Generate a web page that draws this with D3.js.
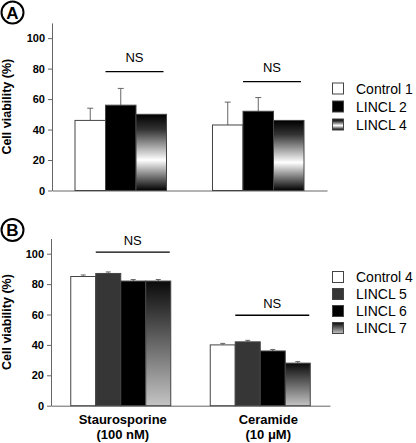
<!DOCTYPE html>
<html><head><meta charset="utf-8">
<script src="https://cdn.jsdelivr.net/npm/d3@7"></script>
<style>
html,body{margin:0;padding:0;background:#fff;}
text{font-family:"Liberation Sans",Arial,sans-serif;}
</style></head>
<body>
<svg id="chart" width="416" height="443"></svg>
<script>
// ---- data ----
const groupsA = ["Group 1", "Group 2"];
const seriesA = ["Control 1", "LINCL 2", "LINCL 4"];
const valuesA = [[46, 56, 50], [43, 52, 46]];
const errorsA = [[8, 11, 0], [15, 9, 0]];
const nsA = [78, 71.5];

const groupsB = ["Staurosporine", "Ceramide"];
const groupsBSub = ["(100 nM)", "(10 μM)"];
const seriesB = ["Control 4", "LINCL 5", "LINCL 6", "LINCL 7"];
const valuesB = [[85, 87, 82, 82], [40, 42, 36, 28]];
const errorsB = [[1, 1, 1, 1], [1, 1, 1, 1]];
const nsB = [101, 59.5];

const yTicks = [0, 20, 40, 60, 80, 100];
const yTitle = "Cell viability (%)";

// ---- drawing ----
const svg = d3.select("#chart");
const defs = svg.append("defs");
const gA = defs.append("linearGradient").attr("id", "gradA").attr("x1", 0).attr("y1", 0).attr("x2", 0).attr("y2", 1);
gA.append("stop").attr("offset", "0%").attr("stop-color", "#000");
gA.append("stop").attr("offset", "20%").attr("stop-color", "#333");
gA.append("stop").attr("offset", "60%").attr("stop-color", "#fff");
gA.append("stop").attr("offset", "100%").attr("stop-color", "#000");
const gB = defs.append("linearGradient").attr("id", "gradB").attr("x1", 0).attr("y1", 0).attr("x2", 0).attr("y2", 1);
gB.append("stop").attr("offset", "0%").attr("stop-color", "#0a0a0a");
gB.append("stop").attr("offset", "100%").attr("stop-color", "#c4c4c4");

const fillsA = ["#fff", "#000", "url(#gradA)"];
const fillsB = ["#fff", "#363636", "#000", "url(#gradB)"];

function panel(cfg) {
  const g = svg.append("g");
  const y = d3.scaleLinear().domain([0, 110]).range([cfg.y0, cfg.yTop]);
  const x0 = d3.scaleBand().domain(cfg.groups).range([cfg.xL, cfg.xR]).padding(0);
  const x1 = d3.scaleBand().domain(cfg.series).range([0, x0.bandwidth()])
    .paddingInner(0).paddingOuter(cfg.outer);

  // axes
  const yAxis = d3.axisLeft(y).tickValues(yTicks).tickSize(4).tickPadding(3).tickSizeOuter(0);
  const ya = g.append("g").attr("transform", `translate(${cfg.xL},0)`).call(yAxis);
  ya.select(".domain").attr("stroke", "#666");
  ya.selectAll(".tick line").attr("stroke", "#666");
  ya.selectAll(".tick text").attr("font-size", 11).attr("font-weight", "bold")
    .attr("fill", "#000").attr("font-family", '"Liberation Sans",Arial,sans-serif');
  const xAxis = d3.axisBottom(x0).tickSize(0).tickFormat("");
  const xa = g.append("g").attr("transform", `translate(0,${cfg.y0})`).call(xAxis);
  xa.select(".domain").attr("stroke", "#666");

  // bars
  cfg.values.forEach((vals, gi) => {
    const grp = cfg.groups[gi];
    const gg = g.append("g").attr("transform", `translate(${x0(grp)},0)`);
    vals.forEach((v, si) => {
      const s = cfg.series[si];
      const bx = x1(s), bw = x1.bandwidth();
      const e = cfg.errors[gi][si];
      if (e > 0) {
        const cx = bx + bw / 2;
        gg.append("line").attr("x1", cx).attr("x2", cx).attr("y1", y(v)).attr("y2", y(v + e))
          .attr("stroke", "#666").attr("stroke-width", 1);
        gg.append("line").attr("x1", cx - cfg.cap).attr("x2", cx + cfg.cap).attr("y1", y(v + e)).attr("y2", y(v + e))
          .attr("stroke", "#666").attr("stroke-width", 1);
      }
      gg.append("rect").attr("x", bx).attr("y", y(v)).attr("width", bw).attr("height", y(0) - y(v))
        .attr("fill", cfg.fills[si]).attr("stroke", "#444").attr("stroke-width", 1);
    });
    // NS annotation
    const lx1 = x1(cfg.series[1]);
    const lx2 = x1(cfg.series[cfg.series.length - 1]) + x1.bandwidth() - cfg.nsTrim;
    const ly = y(cfg.ns[gi]);
    gg.append("line").attr("x1", lx1).attr("x2", lx2).attr("y1", ly).attr("y2", ly)
      .attr("stroke", "#000").attr("stroke-width", 1.3);
    gg.append("text").attr("x", (lx1 + lx2) / 2).attr("y", ly - cfg.nsGap)
      .attr("text-anchor", "middle").attr("font-size", 13).text("NS");
    // category labels
    if (cfg.labels) {
      const cx = x0.bandwidth() / 2 + cfg.labelShift[gi];
      gg.append("text").attr("x", cx).attr("y", cfg.y0 + 18).attr("text-anchor", "middle")
        .attr("font-size", 13).attr("font-weight", "bold").text(grp);
      gg.append("text").attr("x", cx).attr("y", cfg.y0 + 33).attr("text-anchor", "middle")
        .attr("font-size", 13).attr("font-weight", "bold").text(cfg.labels[gi]);
    }
  });

  // y title
  g.append("text").attr("transform", `translate(${11},${(cfg.y0 + cfg.yTop) / 2}) rotate(-90)`)
    .attr("text-anchor", "middle").attr("font-size", 12.5).attr("font-weight", "bold").text(yTitle);

  // panel letter
  g.append("circle").attr("cx", 12.5).attr("cy", cfg.letterY).attr("r", 11)
    .attr("fill", "none").attr("stroke", "#000").attr("stroke-width", 2);
  g.append("text").attr("x", 12.5).attr("y", cfg.letterY + 6).attr("text-anchor", "middle")
    .attr("font-size", 17).attr("font-weight", "bold").text(cfg.letter);

  // legend
  const leg = g.append("g");
  cfg.series.forEach((s, i) => {
    const ry = cfg.legY + i * cfg.legStep;
    leg.append("rect").attr("x", 332.5).attr("y", ry - 5.5).attr("width", 11).attr("height", 11)
      .attr("fill", cfg.fills[i]).attr("stroke", "#444").attr("stroke-width", 1);
    leg.append("text").attr("x", 356).attr("y", ry + 5).attr("font-size", 14).text(s);
  });
}

panel({
  groups: groupsA, series: seriesA, values: valuesA, errors: errorsA, ns: nsA, fills: fillsA,
  xL: 52, xR: 327, y0: 190.5, yTop: 22.9, outer: 0.754, cap: 3, nsTrim: 3, nsGap: 10,
  letter: "A", letterY: 12.5, legY: 88.5, legStep: 18, labels: null
});
panel({
  groups: groupsB, series: seriesB, values: valuesB, errors: errorsB, ns: nsB, fills: fillsB,
  xL: 51, xR: 330, y0: 405.7, yTop: 238.5, outer: 0.79, cap: 2.5, nsTrim: 1, nsGap: 7,
  letter: "B", letterY: 230, legY: 277, legStep: 17, labels: groupsBSub, labelShift: [2, 8]
});
</script>
</body></html>
